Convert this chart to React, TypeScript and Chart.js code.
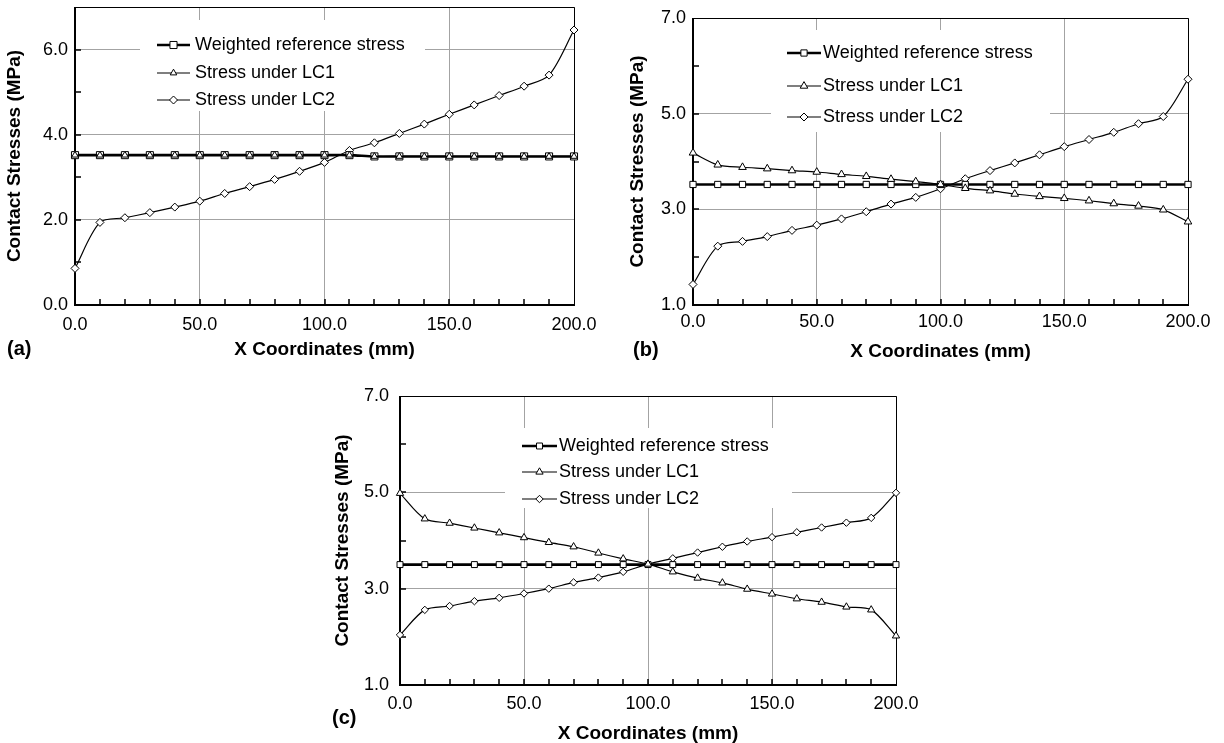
import { useEffect, useRef } from "react";
import { Chart, registerables } from "chart.js";

Chart.register(...registerables);

// ---------- data ----------
const X_MM = [0, 10, 20, 30, 40, 50, 60, 70, 80, 90, 100, 110, 120, 130, 140, 150, 160, 170, 180, 190, 200];
const X_TICKS = [0, 50, 100, 150, 200];
const X_MINOR = [10, 20, 30, 40, 50, 60, 70, 80, 90, 100, 110, 120, 130, 140, 150, 160, 170, 180, 190];
const Y_TICKS_A = [0, 2, 4, 6];
const Y_MINOR_A = [1, 2, 3, 4, 5, 6];
const Y_TICKS_BC = [1, 3, 5, 7];
const Y_MINOR_BC = [2, 3, 4, 5, 6];

const SERIES_LABELS = ["Weighted reference stress", "Stress under LC1", "Stress under LC2"];
const X_TITLE = "X Coordinates (mm)";
const Y_TITLE = "Contact Stresses (MPa)";

// panel (a)
const A_REF = [3.52, 3.52, 3.52, 3.52, 3.52, 3.52, 3.52, 3.52, 3.52, 3.52, 3.52, 3.52, 3.49, 3.49, 3.49, 3.49, 3.49, 3.49, 3.49, 3.49, 3.49];
const A_LC1 = [3.52, 3.52, 3.52, 3.52, 3.52, 3.52, 3.52, 3.52, 3.52, 3.52, 3.52, 3.52, 3.49, 3.49, 3.49, 3.49, 3.49, 3.49, 3.49, 3.49, 3.49];
const A_LC2 = [0.86, 1.94, 2.05, 2.17, 2.30, 2.44, 2.62, 2.78, 2.95, 3.14, 3.35, 3.63, 3.81, 4.03, 4.25, 4.48, 4.70, 4.92, 5.14, 5.40, 6.46];

// panel (b)
const B_REF = [3.52, 3.52, 3.52, 3.52, 3.52, 3.52, 3.52, 3.52, 3.52, 3.52, 3.52, 3.52, 3.52, 3.52, 3.52, 3.52, 3.52, 3.52, 3.52, 3.52, 3.52];
const B_LC1 = [4.18, 3.93, 3.88, 3.85, 3.81, 3.78, 3.73, 3.69, 3.63, 3.58, 3.52, 3.44, 3.39, 3.32, 3.27, 3.23, 3.18, 3.12, 3.07, 2.99, 2.74];
const B_LC2 = [1.43, 2.23, 2.33, 2.43, 2.56, 2.67, 2.80, 2.95, 3.11, 3.25, 3.43, 3.64, 3.81, 3.97, 4.14, 4.31, 4.46, 4.61, 4.79, 4.94, 5.72];

// panel (c)
const C_REF = [3.50, 3.50, 3.50, 3.50, 3.50, 3.50, 3.50, 3.50, 3.50, 3.50, 3.50, 3.50, 3.50, 3.50, 3.50, 3.50, 3.50, 3.50, 3.50, 3.50, 3.50];
const C_LC1 = [4.98, 4.45, 4.36, 4.26, 4.16, 4.06, 3.96, 3.87, 3.74, 3.62, 3.51, 3.35, 3.22, 3.12, 2.99, 2.89, 2.79, 2.72, 2.62, 2.56, 2.02];
const C_LC2 = [2.04, 2.56, 2.64, 2.74, 2.81, 2.90, 3.00, 3.13, 3.23, 3.35, 3.51, 3.63, 3.75, 3.87, 3.98, 4.07, 4.17, 4.27, 4.37, 4.47, 4.99];

// ---------- styling ----------
const FONT = '"Liberation Sans", Arial, Helvetica, sans-serif';
const GRID = "#a3a3a3";
const THIN = 1.2;
const THICK = 2.6;
const TICK_FONT = { family: FONT, size: 18, lineHeight: 1.2 };
const TITLE_FONT = { family: FONT, size: 19, weight: "bold" as const, lineHeight: 1 };

type Marker = "rect" | "triangle" | "rectRot";

interface PanelSpec {
  letter: string;
  letterPos: { left: number; top: number };
  left: number;
  top: number;
  width: number;
  height: number;
  padTop: number;
  padRight: number;
  yWidth: number;
  xHeight: number;
  yMin: number;
  yMax: number;
  yTicks: number[];
  yMinor: number[];
  xTickPad: number;
  yTickPad: number;
  yTitlePad: number;
  ref: number[];
  lc1: number[];
  lc2: number[];
  marker: { rect: number; tri: number; dia: number };
  legend: { box: number[]; rows: number[]; line: number[]; textX: number };
}

const PANELS: PanelSpec[] = [
  {
    letter: "(a)",
    letterPos: { left: 7, top: 338 },
    left: 0, top: 0, width: 600, height: 359,
    padTop: 7, padRight: 26, yWidth: 75, xHeight: 54,
    yMin: 0, yMax: 7, yTicks: Y_TICKS_A, yMinor: Y_MINOR_A,
    xTickPad: 9, yTickPad: 7, yTitlePad: 5.5,
    ref: A_REF, lc1: A_LC1, lc2: A_LC2,
    marker: { rect: 5, tri: 3.8, dia: 4 },
    legend: { box: [140, 20, 425, 111], rows: [45, 73, 100], line: [157, 190], textX: 195 },
  },
  {
    letter: "(b)",
    letterPos: { left: 633, top: 339 },
    left: 615, top: 0, width: 599, height: 361,
    padTop: 18, padRight: 26, yWidth: 78, xHeight: 56,
    yMin: 1, yMax: 7, yTicks: Y_TICKS_BC, yMinor: Y_MINOR_BC,
    xTickPad: 6, yTickPad: 7, yTitlePad: 13.5,
    ref: B_REF, lc1: B_LC1, lc2: B_LC2,
    marker: { rect: 4.4, tri: 4.4, dia: 4 },
    legend: { box: [156, 30, 435, 132], rows: [53, 86, 117], line: [172, 206], textX: 208 },
  },
  {
    letter: "(c)",
    letterPos: { left: 332, top: 707 },
    left: 320, top: 380, width: 602, height: 363,
    padTop: 16, padRight: 26, yWidth: 80, xHeight: 58,
    yMin: 1, yMax: 7, yTicks: Y_TICKS_BC, yMinor: Y_MINOR_BC,
    xTickPad: 8, yTickPad: 11, yTitlePad: 13.5,
    ref: C_REF, lc1: C_LC1, lc2: C_LC2,
    marker: { rect: 4.2, tri: 4.2, dia: 3.7 },
    legend: { box: [185, 48, 472, 128], rows: [66, 92, 119], line: [202, 237], textX: 239 },
  },
];

function drawMarker(ctx: CanvasRenderingContext2D, style: Marker, x: number, y: number, r: number) {
  ctx.beginPath();
  if (style === "rect") {
    const s = r * Math.SQRT1_2;
    ctx.rect(x - s, y - s, 2 * s, 2 * s);
  } else if (style === "triangle") {
    ctx.moveTo(x, y - r);
    ctx.lineTo(x + r * Math.sin((2 * Math.PI) / 3), y + r * 0.5);
    ctx.lineTo(x - r * Math.sin((2 * Math.PI) / 3), y + r * 0.5);
    ctx.closePath();
  } else {
    ctx.moveTo(x - r, y);
    ctx.lineTo(x, y - r);
    ctx.lineTo(x + r, y);
    ctx.lineTo(x, y + r);
    ctx.closePath();
  }
  ctx.fillStyle = "#fff";
  ctx.fill();
  ctx.lineWidth = 1;
  ctx.strokeStyle = "#000";
  ctx.stroke();
}

function makeFramePlugin(s: PanelSpec) {
  return {
    id: "frameAndLegend",
    beforeDatasetsDraw(chart: any) {
      const { ctx, chartArea } = chart;
      const { left, right, top, bottom } = chartArea;
      const xs = chart.scales.x;
      const ys = chart.scales.y;
      ctx.save();
      // legend background
      const [bx0, by0, bx1, by1] = s.legend.box;
      ctx.fillStyle = "#fff";
      ctx.fillRect(bx0, by0, bx1 - bx0, by1 - by0);

      ctx.strokeStyle = "#000";
      // thin top / right border
      ctx.lineWidth = 1;
      ctx.beginPath();
      ctx.moveTo(left, top + 0.5);
      ctx.lineTo(right + 0.5, top + 0.5);
      ctx.lineTo(right + 0.5, bottom);
      ctx.stroke();
      // thick left / bottom axes
      ctx.lineWidth = 2;
      ctx.beginPath();
      ctx.moveTo(left, top);
      ctx.lineTo(left, bottom + 1);
      ctx.moveTo(left - 1, bottom);
      ctx.lineTo(right + 1, bottom);
      ctx.stroke();
      // inward tick marks
      ctx.lineWidth = 1.5;
      ctx.beginPath();
      for (const v of X_MINOR) {
        const px = Math.round(xs.getPixelForValue(v));
        ctx.moveTo(px, bottom);
        ctx.lineTo(px, bottom - 6);
      }
      for (const v of s.yMinor) {
        const py = Math.round(ys.getPixelForValue(v));
        ctx.moveTo(left, py);
        ctx.lineTo(left + 6, py);
      }
      ctx.stroke();

      // legend entries
      const entries: { label: string; width: number; marker: Marker; r: number }[] = [
        { label: SERIES_LABELS[0], width: THICK, marker: "rect", r: s.marker.rect },
        { label: SERIES_LABELS[1], width: THIN, marker: "triangle", r: s.marker.tri },
        { label: SERIES_LABELS[2], width: THIN, marker: "rectRot", r: s.marker.dia },
      ];
      const [lx0, lx1] = s.legend.line;
      entries.forEach((e, i) => {
        const y = s.legend.rows[i];
        ctx.strokeStyle = "#000";
        ctx.lineWidth = e.width;
        ctx.beginPath();
        ctx.moveTo(lx0, y);
        ctx.lineTo(lx1, y);
        ctx.stroke();
        drawMarker(ctx, e.marker, (lx0 + lx1) / 2, y, e.r);
        ctx.fillStyle = "#000";
        ctx.font = `18px ${FONT}`;
        ctx.textBaseline = "middle";
        ctx.textAlign = "left";
        ctx.fillText(e.label, s.legend.textX, y);
      });
      ctx.restore();
    },
  };
}

function buildConfig(s: PanelSpec): any {
  const pts = (vals: number[]) => X_MM.map((x, i) => ({ x, y: vals[i] }));
  const common = {
    borderColor: "#000",
    pointBackgroundColor: "#fff",
    pointBorderColor: "#000",
    pointBorderWidth: 1,
    pointHoverRadius: 0,
    tension: 0.3,
    clip: false,
    fill: false,
  };
  const fmt = (v: any) => Number(v).toFixed(1);
  return {
    type: "line",
    data: {
      datasets: [
        { ...common, label: SERIES_LABELS[1], data: pts(s.lc1), borderWidth: THIN, pointStyle: "triangle", pointRadius: s.marker.tri, order: 0 },
        { ...common, label: SERIES_LABELS[0], data: pts(s.ref), borderWidth: THICK, pointStyle: "rect", pointRadius: s.marker.rect, order: 1 },
        { ...common, label: SERIES_LABELS[2], data: pts(s.lc2), borderWidth: THIN, pointStyle: "rectRot", pointRadius: s.marker.dia, order: 2 },
      ],
    },
    options: {
      animation: false,
      responsive: false,
      maintainAspectRatio: false,
      devicePixelRatio: 1,
      events: [],
      layout: { padding: { left: 0, right: s.padRight, top: s.padTop, bottom: 0 } },
      plugins: { legend: { display: false }, tooltip: { enabled: false }, title: { display: false } },
      scales: {
        x: {
          type: "linear",
          min: 0,
          max: 200,
          afterBuildTicks: (sc: any) => {
            sc.ticks = X_TICKS.map((v) => ({ value: v }));
          },
          afterFit: (sc: any) => {
            sc.height = s.xHeight;
            sc.paddingLeft = 0;
            sc.paddingRight = 0;
            sc.paddingTop = 0;
            sc.paddingBottom = 0;
          },
          grid: { color: GRID, lineWidth: 1, drawTicks: false },
          border: { display: false },
          ticks: { color: "#000", font: TICK_FONT, padding: s.xTickPad, maxRotation: 0, autoSkip: false, callback: fmt },
          title: { display: true, text: X_TITLE, color: "#000", font: TITLE_FONT, padding: { top: 0, bottom: 0 } },
        },
        y: {
          type: "linear",
          min: s.yMin,
          max: s.yMax,
          afterBuildTicks: (sc: any) => {
            sc.ticks = s.yTicks.map((v) => ({ value: v }));
          },
          afterFit: (sc: any) => {
            sc.width = s.yWidth;
            sc.paddingLeft = 0;
            sc.paddingRight = 0;
            sc.paddingTop = 0;
            sc.paddingBottom = 0;
          },
          grid: { color: GRID, lineWidth: 1, drawTicks: false },
          border: { display: false },
          ticks: { color: "#000", font: TICK_FONT, padding: s.yTickPad, autoSkip: false, callback: fmt },
          title: { display: true, text: Y_TITLE, color: "#000", font: TITLE_FONT, padding: { top: s.yTitlePad, bottom: 0 } },
        },
      },
    },
    plugins: [makeFramePlugin(s)],
  };
}

function Panel({ spec }: { spec: PanelSpec }) {
  const ref = useRef<HTMLCanvasElement | null>(null);
  useEffect(() => {
    const canvas = ref.current;
    if (!canvas) return;
    const chart = new Chart(canvas, buildConfig(spec));
    return () => chart.destroy();
  }, [spec]);
  return (
    <canvas
      ref={ref}
      width={spec.width}
      height={spec.height}
      style={{ position: "absolute", left: spec.left, top: spec.top, width: spec.width, height: spec.height }}
    />
  );
}

export default function App() {
  return (
    <div style={{ position: "fixed", left: 0, top: 0, width: 1224, height: 743, background: "#fff", overflow: "hidden" }}>
      {PANELS.map((p) => (
        <Panel key={p.letter} spec={p} />
      ))}
      {PANELS.map((p) => (
        <div
          key={p.letter + "-label"}
          style={{
            position: "absolute",
            left: p.letterPos.left,
            top: p.letterPos.top,
            fontFamily: FONT,
            fontWeight: "bold",
            fontSize: 20,
            lineHeight: "20px",
            color: "#000",
            whiteSpace: "nowrap",
          }}
        >
          {p.letter}
        </div>
      ))}
    </div>
  );
}
